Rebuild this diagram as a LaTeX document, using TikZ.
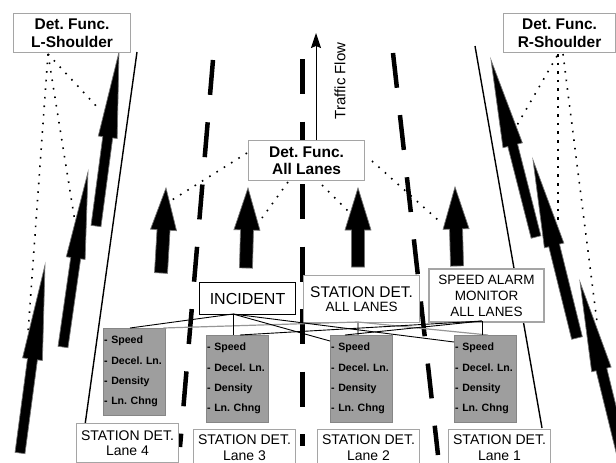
\documentclass[tikz,border=0pt]{standalone}
\usepackage{fontspec}
\setmainfont{Liberation Sans}
\usetikzlibrary{calc,arrows.meta}
\frenchspacing
\definecolor{boxgray}{RGB}{165,165,165}
\definecolor{fillgray}{RGB}{158,158,158}
\definecolor{linegray}{RGB}{150,150,150}
% #1 tip, #2 tail, #3 head length, #4 head half width, #5 shaft half width
\newcommand\blockarr[5]{%
  \coordinate (hb) at ($(#1)!#3!(#2)$);
  \filldraw[blockfill] (#1) -- ($(hb)!#4!90:(#1)$) -- ($(hb)!#5!90:(#1)$)
    -- ($(#2)!#5!90:(#1)$) -- ($(#2)!#5!-90:(#1)$) -- ($(hb)!#5!-90:(#1)$)
    -- ($(hb)!#4!-90:(#1)$) -- cycle;}
\begin{document}
\begin{tikzpicture}[x=1pt,y=-1pt,
  roadedge/.style={line width=1.4pt,black},
  lanedash/.style={line width=4.5pt,black,dash pattern=on 35pt off 27.5pt},
  dotline/.style={line width=1.6pt,dash pattern=on 1.6pt off 7pt},
  sqdot/.style={line width=2.6pt,dash pattern=on 2.6pt off 6pt},
  blockfill/.style={fill=black,draw=black!55,line width=0.7pt,line join=miter},
  wbox/.style={draw=boxgray,line width=1.1pt,fill=white,inner sep=0pt,align=center,anchor=north west},
  gbox/.style={fill=fillgray,draw=fillgray!85!black,line width=0.4pt,inner xsep=1pt,inner ysep=0pt,
    anchor=north west,align=left,minimum width=62pt,minimum height=87pt,text width=60pt,
    font=\fontsize{10.6}{20.3}\selectfont\bfseries},
  fanblack/.style={line width=0.9pt,black},
  fangray/.style={line width=1.2pt,linegray},
  headfont/.style={font=\fontsize{15.5}{18}\selectfont\bfseries},
  lanefont/.style={font=\fontsize{14}{15.5}\selectfont}
]
\useasboundingbox (0,0) rectangle (616,463);
\clip (0,0) rectangle (616,463);

% road edges
\coordinate (le1) at (137,52); \coordinate (le2) at (85,425);
\coordinate (re1) at (475,46); \coordinate (re2) at (542,428);
\draw[roadedge] (le1) -- (le2);
\draw[roadedge] (re1) -- (re2);

% lane dividers
\coordinate (ld1) at (213,60); \coordinate (ld2) at (180,447);
\coordinate (cd1) at (302,59); \coordinate (cd2) at (302,446);
\coordinate (rd1) at (393,53); \coordinate (rd2) at (438,455);
\draw[lanedash] (ld1) -- (ld2);
\draw[lanedash,line width=5pt] (cd1) -- (cd2);
\draw[lanedash] (rd1) -- (rd2);

% block arrows: lanes
\coordinate (a1t) at (166,188); \coordinate (a1b) at (161,273);
\coordinate (a2t) at (248,188); \coordinate (a2b) at (246,268);
\coordinate (a3t) at (358,188); \coordinate (a3b) at (358,267);
\coordinate (a4t) at (455,187); \coordinate (a4b) at (457,266);
\blockarr{a1t}{a1b}{42pt}{13pt}{6.5pt}
\blockarr{a2t}{a2b}{42pt}{13pt}{6.5pt}
\blockarr{a3t}{a3b}{42pt}{13pt}{6.5pt}
\blockarr{a4t}{a4b}{42pt}{13pt}{6.5pt}

% block arrows: shoulders
\coordinate (l1t) at (119,52);  \coordinate (l1b) at (96,226);
\coordinate (l2t) at (88,172);  \coordinate (l2b) at (63,347);
\coordinate (l3t) at (45,265);  \coordinate (l3b) at (20,453);
\coordinate (r1t) at (491,60);  \coordinate (r1b) at (536,237);
\coordinate (r2t) at (533,160); \coordinate (r2b) at (577,338);
\coordinate (r3t) at (580,282); \coordinate (r3b) at (628,478);
\blockarr{l1t}{l1b}{86pt}{9.5pt}{5pt}
\blockarr{l2t}{l2b}{87pt}{9.5pt}{5pt}
\blockarr{l3t}{l3b}{95pt}{10pt}{5pt}
\blockarr{r1t}{r1b}{88pt}{10pt}{5pt}
\blockarr{r2t}{r2b}{88pt}{10pt}{5.5pt}
\blockarr{r3t}{r3b}{90pt}{10pt}{5.5pt}

% traffic flow
\coordinate (tf) at (316,33);
\node[font=\fontsize{15}{18}\selectfont,rotate=90] (tflab) at (340,81) {Traffic Flow};

% detection function boxes
\node[wbox,headfont,minimum width=117pt,minimum height=39pt] (lsh) at (13,13) {Det. Func.\\L-Shoulder};
\node[wbox,headfont,minimum width=112pt,minimum height=39pt] (rsh) at (503,13) {Det. Func.\\R-Shoulder};
\node[wbox,font=\fontsize{15.5}{17}\selectfont\bfseries,minimum width=116pt,minimum height=40pt] (all) at (248,140) {Det. Func.\\All Lanes};
\draw[line width=1pt,-{Stealth[length=15pt,width=10pt,inset=2pt]}] (all.north -| tf) -- (tf);

% dotted links
\coordinate (lsb) at (48,54);
\coordinate (d1e) at (28,333); \coordinate (d2e) at (75,222); \coordinate (d3e) at (99,109);
\draw[dotline] (lsb) -- (d1e);
\draw[dotline] (lsb) -- (d2e);
\draw[dotline] (lsb) -- (d3e);
\coordinate (rsb1) at (558,54); \coordinate (rsb2) at (563,54); \coordinate (rsb3) at (557,56);
\coordinate (e1e) at (558,225); \coordinate (e2e) at (597,322); \coordinate (e3e) at (516,127);
\draw[sqdot] (rsb1) -- (e1e);
\draw[dotline] (rsb2) -- (e2e);
\draw[dotline] (rsb3) -- (e3e);
\coordinate (f1s) at (247,153); \coordinate (f1e) at (172,200);
\coordinate (f2s) at (288,182); \coordinate (f2e) at (262,218);
\coordinate (f3s) at (322,185); \coordinate (f3e) at (350,213);
\coordinate (f4s) at (372,161); \coordinate (f4e) at (438,220);
\draw[dotline] (f1s) -- (f1e);
\draw[dotline] (f2s) -- (f2e);
\draw[dotline] (f3s) -- (f3e);
\draw[dotline] (f4s) -- (f4e);

% upper station boxes
\node[wbox,draw=black,font=\fontsize{16}{18}\selectfont,minimum width=96pt,minimum height=32pt] (inc) at (199,282) {INCIDENT};
\node[wbox,minimum width=116pt,minimum height=47pt] (sta) at (303,275) {\fontsize{15.5}{18}\selectfont STATION DET.\\[2pt]\fontsize{13.5}{16}\selectfont ALL LANES};
\node[wbox,line width=2pt,font=\fontsize{13.5}{16}\selectfont,minimum width=115pt,minimum height=53pt] (spd) at (428,268) {SPEED ALARM\\MONITOR\\ALL LANES};

% grey detail boxes
\node[gbox] (g4) at (103,328) {- Speed\\- Decel. Ln.\\- Density\\- Ln. Chng};
\node[gbox] (g3) at (206,335) {- Speed\\- Decel. Ln.\\- Density\\- Ln. Chng};
\node[gbox] (g2) at (330,335) {- Speed\\- Decel. Ln.\\- Density\\- Ln. Chng};
\node[gbox] (g1) at (454,335) {- Speed\\- Decel. Ln.\\- Density\\- Ln. Chng};

% fan connectors
\coordinate (incb) at (233,314);
\coordinate (stab) at (358,322);
\coordinate (spdb) at (482,321);
\draw[fangray] (stab) -- ($(g4.north east)+(-2,0)$);
\draw[fangray] (stab) -- (stab |- g2.north);
\draw[fangray] (stab) -- ($(g1.north west)+(34,0)$);
\draw[fanblack] (incb) -- ($(g4.north west)+(27,0)$);
\draw[fanblack] (incb) -- (incb |- g3.north);
\draw[fanblack] (incb) -- ($(g2.north west)+(0,6)$);
\draw[fanblack] (incb) -- ($(g1.north west)+(0,7)$);
\draw[fanblack] (spdb) -- (spdb |- g1.north);
\draw[fanblack] (spdb) -- ($(g3.north west)+(34,0)$);
\draw[fanblack] (spdb) -- ($(g2.north west)+(15,0)$);

% lane station boxes
\node[wbox,lanefont,minimum width=102pt,minimum height=39pt] (l4) at (76,423) {STATION DET.\\Lane 4};
\node[wbox,lanefont,minimum width=102pt,minimum height=36pt] (l3) at (193,429) {STATION DET.\\Lane 3};
\node[wbox,lanefont,minimum width=102pt,minimum height=36pt] (l2) at (317,429) {STATION DET.\\Lane 2};
\node[wbox,lanefont,minimum width=102pt,minimum height=36pt] (l1) at (448,429) {STATION DET.\\Lane 1};
\end{tikzpicture}
\end{document}
